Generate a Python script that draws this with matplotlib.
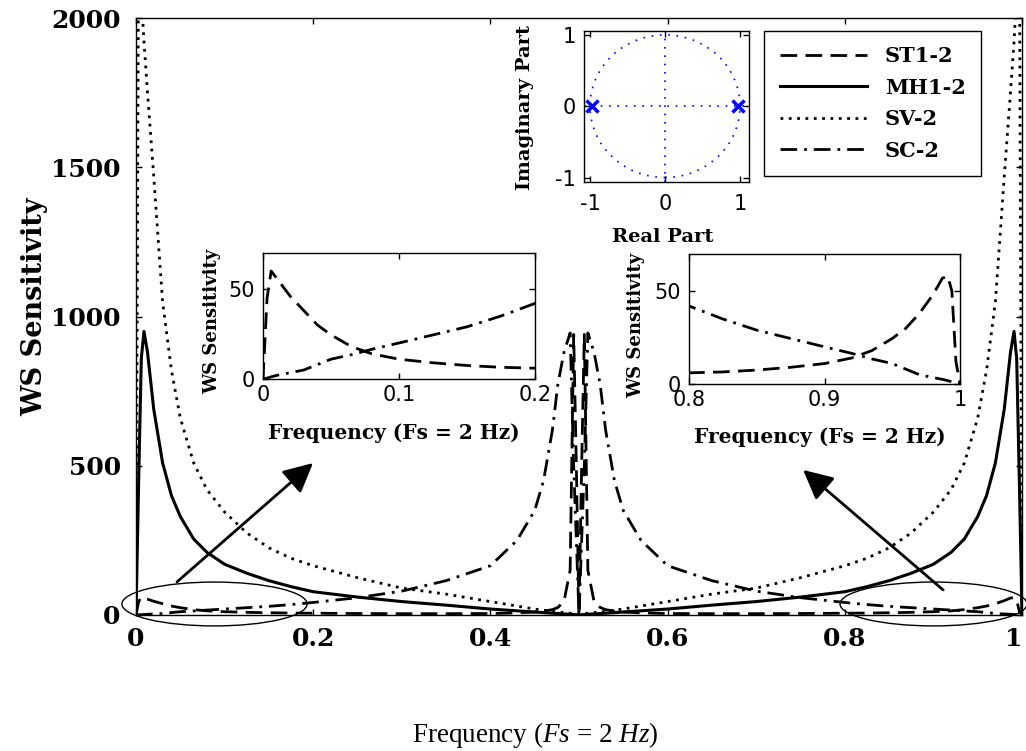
import matplotlib
matplotlib.use('Agg')
import matplotlib.pyplot as plt
from matplotlib.patches import Ellipse, Circle

plt.rcParams['mathtext.fontset'] = 'custom'
plt.rcParams['mathtext.rm'] = 'Liberation Serif'
plt.rcParams['mathtext.it'] = 'Liberation Serif:italic'
plt.rcParams['axes.unicode_minus'] = False

# ---------------- data ----------------
freq = [0, 0.003, 0.006, 0.009, 0.013, 0.02, 0.03, 0.04, 0.05, 0.065, 0.08, 0.1,
        0.125, 0.15, 0.175, 0.2, 0.25, 0.3, 0.35, 0.4, 0.43, 0.45, 0.46, 0.47,
        0.476, 0.483, 0.49, 0.494, 0.497,
        0.5,
        0.503, 0.506, 0.51, 0.517, 0.524, 0.53, 0.54, 0.55, 0.57, 0.6, 0.65,
        0.7, 0.75, 0.8, 0.825, 0.85, 0.875, 0.9, 0.92, 0.935, 0.95, 0.96, 0.97,
        0.98, 0.987, 0.991, 0.994, 0.997, 1.0]

st1 = [0, 45, 60, 57, 53, 46, 38, 30, 24.5, 18, 14, 11, 9, 7.5, 6.5, 6, 5, 4.5,
       4.5, 5, 7, 10, 13, 18, 25, 45, 150, 940, 500,
       0,
       500, 940, 150, 45, 25, 18, 13, 10, 7, 5, 4.5, 4.5, 5, 6, 6.5, 7.5, 9, 11,
       14, 18, 24.5, 30, 38, 48, 57, 58, 50, 12, 0]

mh1 = [0, 450, 860, 950, 880, 690, 510, 400, 330, 255, 210, 170, 140, 115, 95,
       78, 60, 45, 33, 20, 14, 10, 8, 6, 5, 3.5, 2.5, 1.5, 1,
       0,
       1, 1.5, 2.5, 3.5, 5, 6, 8, 10, 14, 20, 33, 45, 60, 78, 95, 115, 140, 170,
       210, 255, 330, 400, 510, 690, 880, 950, 860, 450, 0]

sv = [0, 2300, 2080, 1920, 1750, 1470, 1050, 820, 660, 510, 420, 345, 275, 225,
      190, 165, 125, 90, 70, 45, 30, 20, 16, 12, 10, 8, 6, 5, 4,
      3,
      4, 5, 6, 8, 10, 12, 16, 20, 30, 45, 70, 90, 125, 165, 190, 225, 275, 345,
      420, 510, 660, 820, 1050, 1470, 1750, 1920, 2080, 2300, 0]

sc = [0, 0.5, 1.2, 1.8, 2.5, 3.5, 5, 8, 11, 13.5, 16.5, 20, 24.5, 29, 35, 42,
      58, 80, 115, 165, 250, 350, 450, 620, 770, 880, 945, 500, 250,
      0,
      250, 500, 945, 880, 770, 620, 450, 350, 250, 165, 115, 80, 58, 42, 35, 29,
      24.5, 20, 16.5, 13.5, 11, 8, 5, 3.5, 2.5, 1.8, 1.2, 0.5, 0]

series_labels = ['ST1-2', 'MH1-2', 'SV-2', 'SC-2']

pole_re = [-0.97, 0.97]
pole_im = [0, 0]

main_xticks = [0, 0.2, 0.4, 0.6, 0.8, 1.0]
main_xticklabels = ['0', '0.2', '0.4', '0.6', '0.8', '1']
main_yticks = [0, 500, 1000, 1500, 2000]
main_yticklabels = ['0', '500', '1000', '1500', '2000']

left_xticks = [0, 0.1, 0.2]
left_xticklabels = ['0', '0.1', '0.2']
right_xticks = [0.8, 0.9, 1.0]
right_xticklabels = ['0.8', '0.9', '1']
inset_yticks = [0, 50]
pz_ticks = [-1, 0, 1]

# ---------------- styles ----------------
W, H = 1026, 751
SB = dict(family='DejaVu Serif', weight='bold')
styles = {
    'st1': dict(color='k', lw=2.0, linestyle=(0, (6, 3))),
    'mh1': dict(color='k', lw=2.2, linestyle='-'),
    'sv': dict(color='k', lw=2.0, linestyle=(0, (1, 2))),
    'sc': dict(color='k', lw=2.0, linestyle=(0, (6, 2.5, 1, 2.5))),
}


def fig_rect(x0, y0, x1, y1):
    return [x0 / W, 1 - y1 / H, (x1 - x0) / W, (y1 - y0) / H]


def style_ticks(ax, size, family='DejaVu Sans', weight='normal', padx=4, pady=4):
    ax.tick_params(direction='in', top=True, right=True, length=4.5, width=1)
    ax.tick_params(axis='x', pad=padx)
    ax.tick_params(axis='y', pad=pady)
    for lab in ax.get_xticklabels() + ax.get_yticklabels():
        lab.set_fontfamily(family)
        lab.set_fontweight(weight)
        lab.set_fontsize(size)
    for s in ax.spines.values():
        s.set_linewidth(1.0)


fig = plt.figure(figsize=(W / 100, H / 100), dpi=100)

# ---------------- main axes ----------------
ax = fig.add_axes(fig_rect(136, 18, 1022, 615))
l1, = ax.plot(freq, st1, **styles['st1'], label=series_labels[0])
l2, = ax.plot(freq, mh1, **styles['mh1'], label=series_labels[1])
l3, = ax.plot(freq, sv, **styles['sv'], label=series_labels[2])
l4, = ax.plot(freq, sc, **styles['sc'], label=series_labels[3])
ax.set_xlim(0, 1)
ax.set_ylim(0, 2000)
ax.set_xticks(main_xticks)
ax.set_xticklabels(main_xticklabels)
ax.set_yticks(main_yticks)
ax.set_yticklabels(main_yticklabels)
style_ticks(ax, 18, family='DejaVu Serif', weight='bold', padx=9, pady=11)
ax.get_xticklabels()[-1].set_horizontalalignment('right')

fig.text(35 / W, 1 - 307 / H, 'WS Sensitivity', rotation=90, ha='center',
         va='center', fontsize=19.5, **SB)
fig.text(535 / W, 1 - 735 / H, r'Frequency ($\mathit{Fs}$ = 2 $\mathit{Hz}$)',
         ha='center', va='center', fontsize=19.5, family='Liberation Serif')

# ellipses and arrows
ax.add_patch(Ellipse((0.0886, 36.9), 0.209, 147, fill=False, lw=1.0,
                     color='k', clip_on=False))
ax.add_patch(Ellipse((0.9001, 36.9), 0.211, 147, fill=False, lw=1.0,
                     color='k', clip_on=False))
arrow_kw = dict(arrowstyle='-|>,head_length=0.9,head_width=0.45', lw=2.0,
                color='k', mutation_scale=20, shrinkA=0, shrinkB=0)
ax.annotate('', xy=(0.1998, 509), xytext=(0.0463, 111), arrowprops=arrow_kw,
            annotation_clip=False)
ax.annotate('', xy=(0.753, 486), xytext=(0.911, 84), arrowprops=arrow_kw,
            annotation_clip=False)

# legend
leg = ax.legend(handles=[l1, l2, l3, l4], loc='upper left',
                bbox_to_anchor=(764 / W, 1 - 30.6 / H),
                bbox_transform=fig.transFigure, borderaxespad=0,
                prop=dict(family='DejaVu Serif', weight='bold', size=15),
                handlelength=4.2, handletextpad=0.85, labelspacing=0.55,
                borderpad=0.75, fancybox=False, edgecolor='k', framealpha=1)
leg.get_frame().set_linewidth(1.0)

# ---------------- left inset ----------------
axl = fig.add_axes(fig_rect(263, 253, 535, 379))
axl.plot(freq, st1, **styles['st1'])
axl.plot(freq, sc, **styles['sc'])
axl.set_xlim(0, 0.2)
axl.set_ylim(0, 70)
axl.set_xticks(left_xticks)
axl.set_xticklabels(left_xticklabels)
axl.set_yticks(inset_yticks)
style_ticks(axl, 15, padx=4, pady=6)
fig.text(394 / W, 1 - 433 / H, 'Frequency (Fs = 2 Hz)', ha='center',
         va='center', fontsize=14.5, **SB)
fig.text(212 / W, 1 - 321 / H, 'WS Sensitivity', rotation=90, ha='center',
         va='center', fontsize=13, **SB)

# ---------------- right inset ----------------
axr = fig.add_axes(fig_rect(689, 254, 960, 384))
axr.plot(freq, st1, **styles['st1'])
axr.plot(freq, sc, **styles['sc'])
axr.set_xlim(0.8, 1.0)
axr.set_ylim(0, 70)
axr.set_xticks(right_xticks)
axr.set_xticklabels(right_xticklabels)
axr.set_yticks(inset_yticks)
style_ticks(axr, 15, padx=4, pady=6)
fig.text(820 / W, 1 - 437 / H, 'Frequency (Fs = 2 Hz)', ha='center',
         va='center', fontsize=14.5, **SB)
fig.text(636 / W, 1 - 325 / H, 'WS Sensitivity', rotation=90, ha='center',
         va='center', fontsize=13, **SB)

# ---------------- pole-zero inset ----------------
axp = fig.add_axes(fig_rect(584, 30.6, 749, 181.8))
axp.add_patch(Circle((0, 0), 1, fill=False, color='b', lw=1.2,
                     linestyle=(0, (1, 4))))
axp.axhline(0, color='b', lw=1.2, linestyle=(0, (1, 4)))
axp.axvline(0, color='b', lw=1.2, linestyle=(0, (1, 4)))
axp.plot(pole_re, pole_im, linestyle='none', marker='x', color='b',
         markersize=9, markeredgewidth=2.5)
axp.set_xlim(-1.08, 1.12)
axp.set_ylim(-1.06, 1.06)
axp.set_xticks(pz_ticks)
axp.set_yticks(pz_ticks)
style_ticks(axp, 15, padx=9, pady=6)
fig.text(525 / W, 1 - 107 / H, 'Imaginary Part', rotation=90, ha='center',
         va='center', fontsize=14, **SB)
fig.text(663 / W, 1 - 237 / H, 'Real Part', ha='center', va='center',
         fontsize=14, **SB)

fig.savefig('out.png', dpi=100)
